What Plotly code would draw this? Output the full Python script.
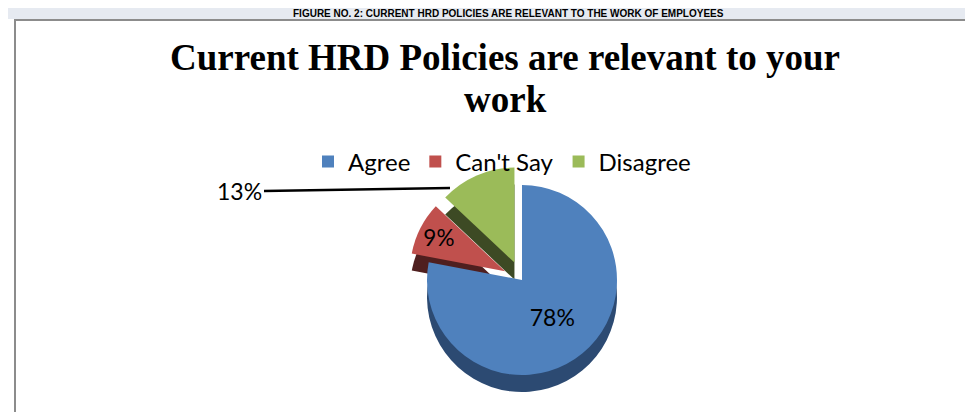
import plotly.graph_objects as go

W, H = 973, 412

# ---- data ----
categories = ["Agree", "Can't Say", "Disagree"]
values = [78, 9, 13]
top_colors = ["#4F81BD", "#C0504D", "#9BBB59"]
side_colors = ["#2C4A72", "#4F1F1F", "#3D4A24"]
pulls = [0.0, 0.2, 0.2]
labels_text = [f"{v}%" for v in values]

caption = "FIGURE NO. 2: CURRENT HRD POLICIES ARE RELEVANT TO THE WORK OF EMPLOYEES"
title_lines = ["Current HRD Policies are relevant to your", "work"]


def px(x):
    return x / W


def py(y):
    return 1 - y / H


cx, cy, half, depth = 514, 272, 114, 17

fig = go.Figure()

# darker "side" of the 3D pie (same data, drawn lower)
fig.add_trace(go.Pie(
    labels=[c + " " for c in categories], values=values, sort=False,
    direction="clockwise", rotation=0, pull=pulls,
    marker=dict(colors=side_colors, line=dict(width=0)),
    textinfo="none", hoverinfo="skip", showlegend=False,
    domain=dict(x=[px(cx - half), px(cx + half)],
                y=[py(cy + depth + half), py(cy + depth - half)]),
))

# top face
fig.add_trace(go.Pie(
    labels=categories, values=values, sort=False,
    direction="clockwise", rotation=0, pull=pulls,
    marker=dict(colors=top_colors, line=dict(width=0)),
    text=[labels_text[0], labels_text[1], ""], textinfo="text",
    textposition="inside", insidetextorientation="horizontal",
    insidetextfont=dict(family="Lato, Open Sans, sans-serif", size=23, color="#000000"),
    domain=dict(x=[px(cx - half), px(cx + half)],
                y=[py(cy + half), py(cy - half)]),
))

shapes = [
    dict(type="rect", xref="paper", yref="paper", x0=0, x1=1, y0=py(11), y1=1,
         fillcolor="#E6EAF1", line=dict(width=0), layer="below"),
    dict(type="rect", xref="paper", yref="paper", x0=px(7), x1=1.05, y0=-0.05, y1=py(12),
         fillcolor="#FFFFFF", line=dict(color="#8C8C8C", width=2), layer="below"),
]

annotations = [
    dict(text="<b>" + caption + "</b>", xref="paper", yref="paper",
         x=px(500), y=py(5.5), xanchor="center", yanchor="middle", showarrow=False,
         font=dict(family="Liberation Sans Narrow, Liberation Sans, sans-serif", size=10, color="#000000")),
    dict(text="<b>" + title_lines[0] + "</b>", xref="paper", yref="paper",
         x=px(497), y=py(50), xanchor="center", yanchor="middle", showarrow=False,
         font=dict(family="Liberation Serif, Times New Roman, serif", size=37, color="#000000")),
    dict(text="<b>" + title_lines[1] + "</b>", xref="paper", yref="paper",
         x=px(497), y=py(91), xanchor="center", yanchor="middle", showarrow=False,
         font=dict(family="Liberation Serif, Times New Roman, serif", size=37, color="#000000")),
    dict(text=labels_text[2], xref="paper", yref="paper",
         x=px(442), y=py(180), ax=-186, ay=3, xanchor="right",
         showarrow=True, arrowhead=0, arrowwidth=2.5, arrowcolor="#000000",
         font=dict(family="Lato, Open Sans, sans-serif", size=23, color="#000000")),
]

fig.update_layout(
    width=W, height=H,
    margin=dict(l=0, r=0, t=0, b=0),
    paper_bgcolor="#FFFFFF",
    shapes=shapes,
    annotations=annotations,
    legend=dict(orientation="h", x=px(494), y=py(154), xanchor="center", yanchor="middle",
                font=dict(family="Lato, Open Sans, sans-serif", size=24, color="#000000"),
                bgcolor="rgba(0,0,0,0)", itemwidth=30, traceorder="normal"),
)

fig.write_html("out.html")
